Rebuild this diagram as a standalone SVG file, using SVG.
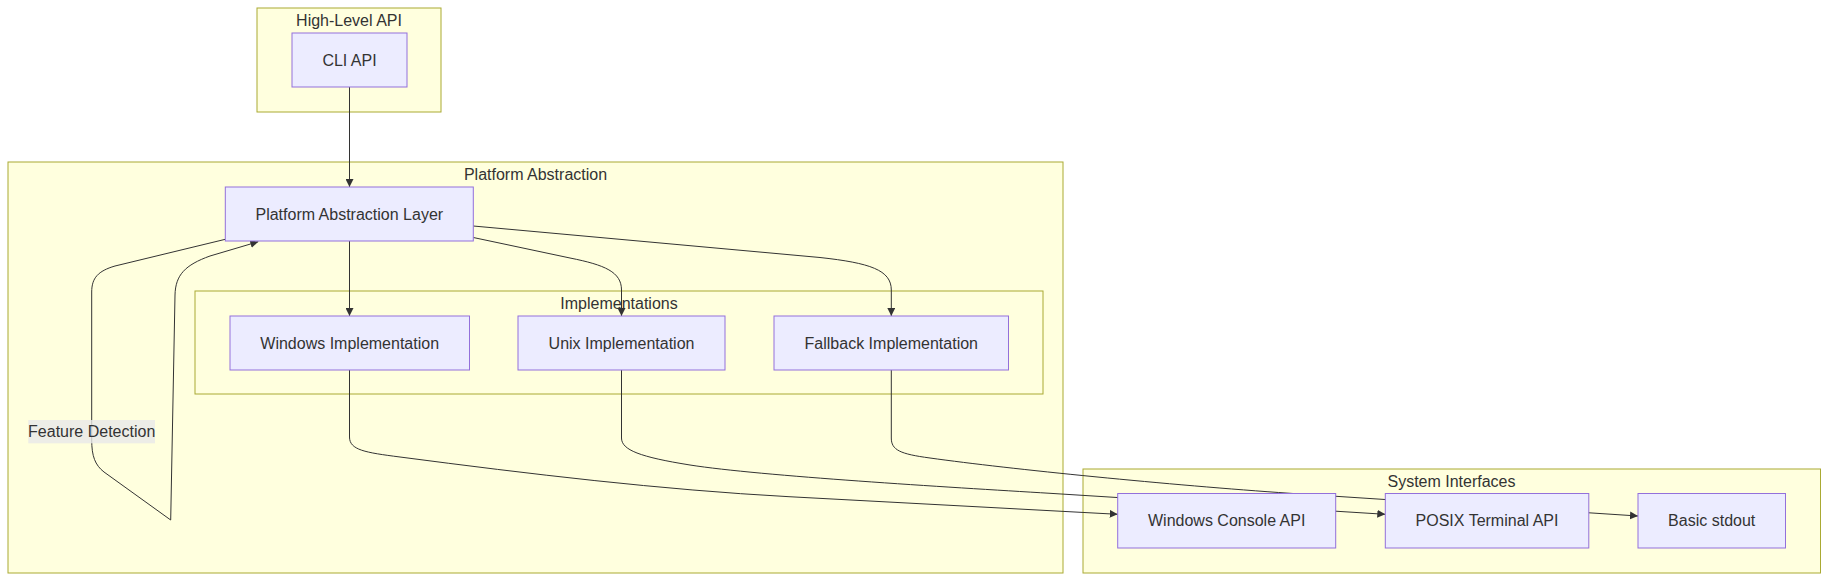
<svg xmlns="http://www.w3.org/2000/svg" width="1829" height="581" viewBox="0 0 1829 581">
<defs>
<style>
.cluster rect{fill:#ffffde;stroke:#aaaa33;stroke-width:1}
.node rect{fill:#ECECFF;stroke:#9370DB;stroke-width:1}
text{font-family:"Liberation Sans",Arial,sans-serif;font-size:16px;fill:#333;text-anchor:middle}
.edge{fill:none;stroke:#333;stroke-width:1;marker-end:url(#arrow)}
</style>
<marker id="arrow" viewBox="0 0 10 10" refX="10" refY="5" markerWidth="8" markerHeight="8" markerUnits="userSpaceOnUse" orient="auto"><path d="M0,0 L10,5 L0,10 z" fill="#333"/></marker>
</defs>
<rect width="1829" height="581" fill="#ffffff"/>
<g id="clusters">
<g id="cluster-highlevel" class="cluster"><rect x="257" y="8" width="184" height="104"/><text x="349" y="26">High-Level API</text></g>
<g id="cluster-platform" class="cluster"><rect x="8" y="162" width="1055" height="411"/><text x="535.5" y="180">Platform Abstraction</text></g>
<g id="cluster-impl" class="cluster"><rect x="195" y="291" width="848" height="103"/><text x="619" y="309">Implementations</text></g>
<g id="cluster-system" class="cluster"><rect x="1083" y="469" width="737.5" height="104"/><text x="1451.5" y="487">System Interfaces</text></g>
</g>
<g id="connectors">
<path class="edge" d="M349.5,87 V187"/>
<path class="edge" d="M349.5,241 V316"/>
<path class="edge" d="M473.3,237.5 L570,258 C605,265 621.5,272 621.5,290 V316"/>
<path class="edge" d="M473.3,226 L820,257.5 C870,263 891.3,270 891.3,290 V316"/>
<path class="edge" d="M225.3,239.3 L115,266 C98,271 91.7,278 91.7,292 V440 C91.7,456 95,465 104,472 L170.7,520 L175,295 C175.5,275 185,265 210,256 L258.3,241.7"/>
<path class="edge" d="M349.5,370 V437 C349.5,450 365,452.5 400,457 C530,474 660,489.7 789,496.7 L1117.7,514.3"/>
<path class="edge" d="M621.5,370 V438 C621.5,450 640,457 690,465 C760,476 950,487.3 1050,493.3 L1385.3,514.3"/>
<path class="edge" d="M891.3,370 V438 C891.3,450 900,454 930,458 C1010,469.2 1170,485.1 1290,493.3 L1638,516"/>
<g id="edge-label-feature"><rect x="28.3" y="420" width="126.7" height="23.3" fill="rgba(232,232,232,0.8)"/><text x="91.7" y="437">Feature Detection</text></g>
</g>
<g id="node-cli" class="node"><rect x="292" y="33" width="115" height="54"/><text x="349.5" y="65.5">CLI API</text></g>
<g id="node-pal" class="node"><rect x="225.3" y="187" width="248" height="54"/><text x="349.3" y="219.5">Platform Abstraction Layer</text></g>
<g id="node-win" class="node"><rect x="230" y="316" width="239.5" height="54"/><text x="349.7" y="348.5">Windows Implementation</text></g>
<g id="node-unix" class="node"><rect x="518" y="316" width="207" height="54"/><text x="621.5" y="348.5">Unix Implementation</text></g>
<g id="node-fallback" class="node"><rect x="774" y="316" width="234.5" height="54"/><text x="891.3" y="348.5">Fallback Implementation</text></g>
<g id="node-wca" class="node"><rect x="1117.7" y="493.5" width="218" height="54.5"/><text x="1226.7" y="526">Windows Console API</text></g>
<g id="node-posix" class="node"><rect x="1385.3" y="493.5" width="203.5" height="54.5"/><text x="1487" y="526">POSIX Terminal API</text></g>
<g id="node-basic" class="node"><rect x="1638" y="493.5" width="147.5" height="54.5"/><text x="1711.7" y="526">Basic stdout</text></g>
</svg>
